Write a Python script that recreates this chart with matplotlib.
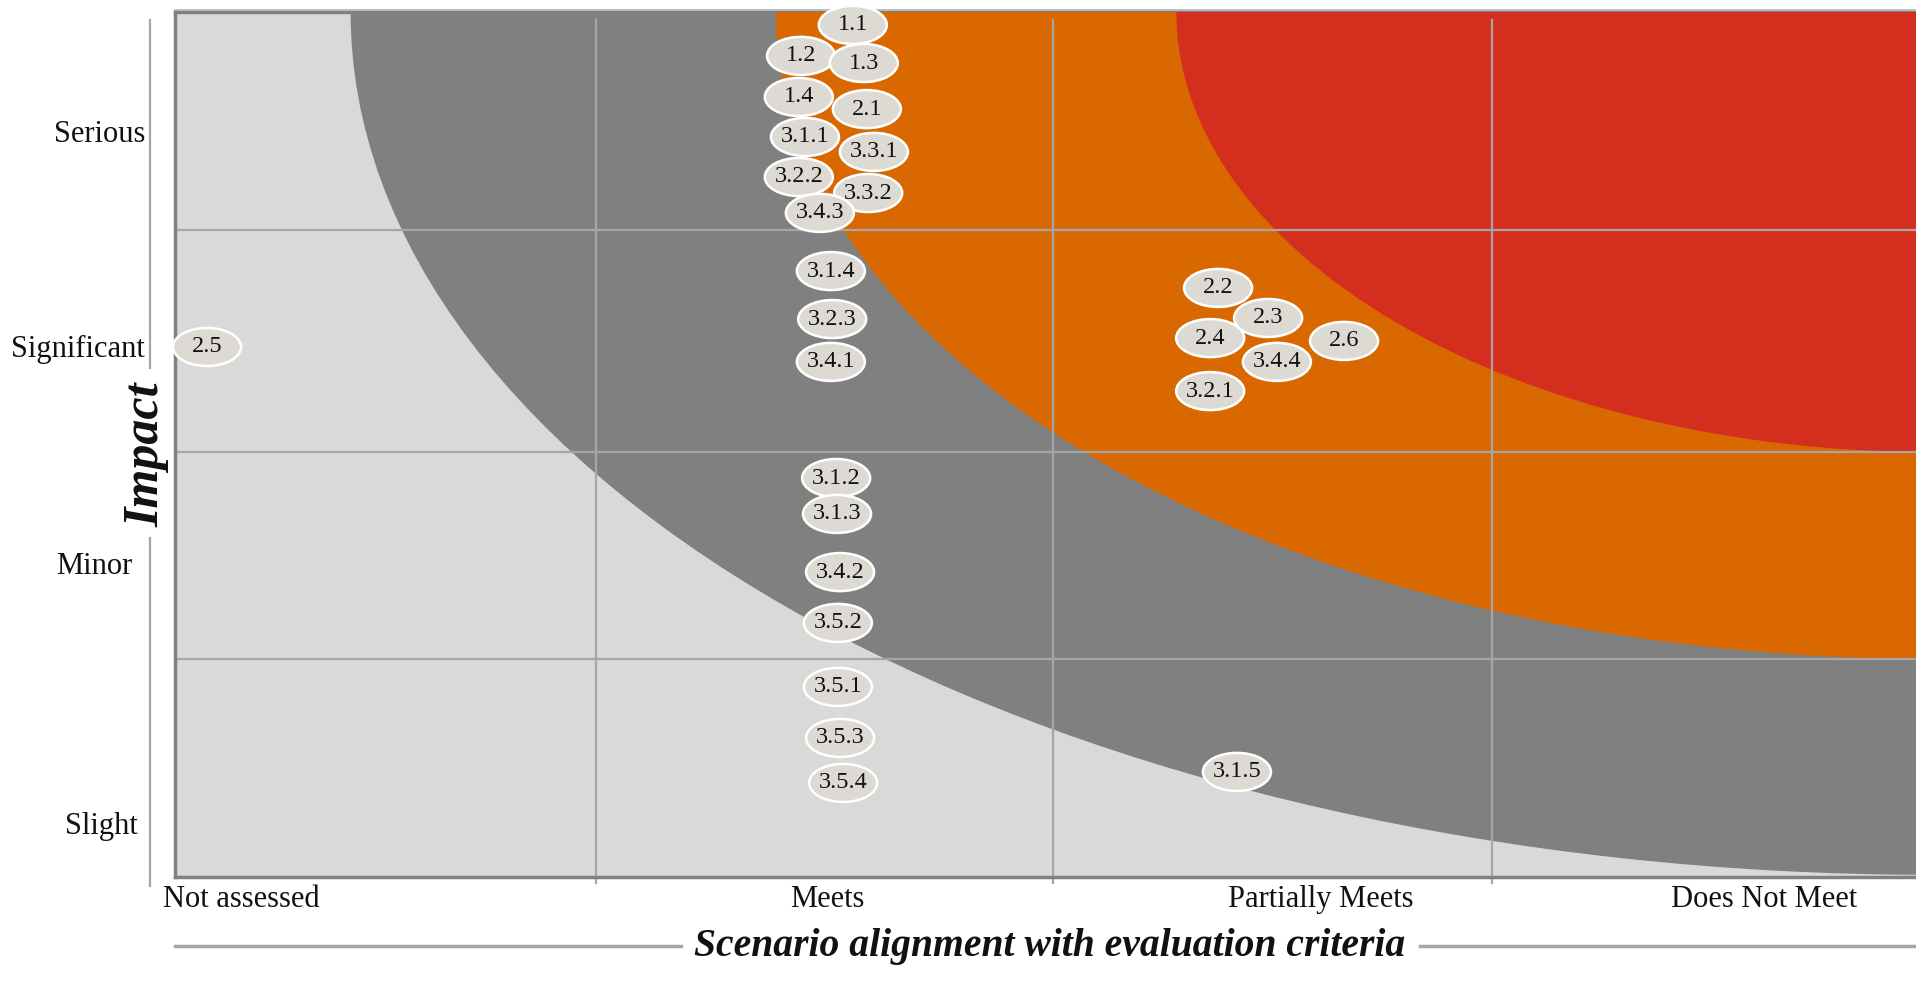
import matplotlib.pyplot as plt
from matplotlib.patches import Ellipse

plt.rcParams['font.family'] = ['Liberation Serif', 'DejaVu Serif']

# Impact rows (top to bottom) and where their labels sit
impact_levels = ['Serious', 'Significant', 'Minor', 'Slight']
impact_pos = [3.40, 2.405, 1.40, 0.200]

# Alignment columns
alignment_levels = ['Not assessed', 'Meets', 'Partially Meets', 'Does Not Meet']
alignment_pos = [0.15, 1.485, 2.61, 3.62]

# Scenario items placed by alignment (x) and impact (y)
item_labels = ['1.1', '1.2', '1.3', '1.4', '2.1', '3.1.1', '3.3.1', '3.2.2', '3.3.2', '3.4.3',
               '3.1.4', '3.2.3', '3.4.1', '3.1.2', '3.1.3', '3.4.2', '3.5.2', '3.5.1', '3.5.3',
               '3.5.4', '3.1.5', '2.5', '2.2', '2.3', '2.4', '2.6', '3.4.4', '3.2.1']
item_x = [1.544, 1.426, 1.569, 1.421, 1.576, 1.435, 1.592, 1.421, 1.579, 1.469,
          1.494, 1.497, 1.494, 1.506, 1.508, 1.515, 1.510, 1.510, 1.515,
          1.522, 2.419, 0.073, 2.376, 2.490, 2.358, 2.663, 2.510, 2.358]
item_y = [3.940, 3.797, 3.764, 3.607, 3.551, 3.422, 3.353, 3.237, 3.163, 3.071,
          2.802, 2.580, 2.382, 1.845, 1.679, 1.410, 1.175, 0.879, 0.643,
          0.435, 0.486, 2.451, 2.724, 2.585, 2.492, 2.479, 2.382, 2.247]

# Risk bands: quarter ellipses anchored at the top-right corner
band_rx = [3.60, 2.631, 1.719]
band_ry = [3.99, 2.992, 2.035]
band_colors = ['#808080', '#D96800', '#D32E1E']

# Cell boundaries
grid_x = [0.96, 2.0, 3.0]
grid_y = [1.008, 1.965, 2.992]

GRID = '#A6A6A6'

fig = plt.figure(figsize=(19.16, 9.96), dpi=100)
ax = fig.add_axes([175 / 1916, 119 / 996, 1756 / 1916, 865 / 996])
ax.set_xlim(0, 4)
ax.set_ylim(0, 4)
ax.set_facecolor('#D9D9D9')
ax.set_xticks([])
ax.set_yticks([])

for rx, ry, c, z in zip(band_rx, band_ry, band_colors, [1, 1.1, 1.2]):
    ax.add_patch(Ellipse((4, 4), 2 * rx, 2 * ry, facecolor=c, edgecolor='none', zorder=z))

for gx in grid_x:
    ax.plot([gx, gx], [-0.028, 3.963], color=GRID, lw=1.6, zorder=2, clip_on=False)
for gy in grid_y:
    ax.plot([0, 4], [gy, gy], color=GRID, lw=1.6, zorder=2)

ax.spines['right'].set_visible(False)
for side in ['left', 'bottom', 'top']:
    ax.spines[side].set_color('#808080')
    ax.spines[side].set_linewidth(2.5)
ax.spines['top'].set_zorder(0.9)
# thin light rule along the very top edge
ax.plot([0, 4], [4.008, 4.008], color='#B0B0B0', lw=1.2, zorder=3, clip_on=False)

# left axis rule with a gap for the title
for y0, y1 in [(-0.042, 1.568), (2.354, 3.963)]:
    ax.plot([-0.057, -0.057], [y0, y1], color=GRID, lw=1.6, clip_on=False)

label_right = [-0.068, -0.068, -0.098, -0.084]
for lab, yp, xr in zip(impact_levels, impact_pos, label_right):
    ax.text(xr, yp, lab, ha='right', va='baseline', fontsize=22, color='#111111')

for lab, xp in zip(alignment_levels, alignment_pos):
    ax.text(xp, -0.138, lab, ha='center', va='baseline', fontsize=22, color='#111111')

ax.text(-0.064, 1.951, 'Impact', rotation=90, ha='center', va='center',
        fontsize=36, fontweight='bold', fontstyle='italic', color='#111111')

ax.text(1.993, -0.322, 'Scenario alignment with evaluation criteria', ha='center', va='center',
        fontsize=28.5, fontweight='bold', fontstyle='italic', color='#111111')
ax.plot([0, 1.153], [-0.319, -0.319], color=GRID, lw=2.5, clip_on=False)
ax.plot([2.836, 4.0], [-0.319, -0.319], color=GRID, lw=2.5, clip_on=False)

# scenario bubbles
for i, (lab, x, y) in enumerate(zip(item_labels, item_x, item_y)):
    ax.add_patch(Ellipse((x, y), 0.155, 0.176, facecolor='#DCDAD3', edgecolor='white',
                         lw=1.8, zorder=5 + i * 0.01, clip_on=False))
    ax.text(x, y, lab, ha='center', va='center', fontsize=17.5, color='#111111',
            zorder=5 + i * 0.01 + 0.005, clip_on=False)

fig.savefig('out.png', dpi=100)
